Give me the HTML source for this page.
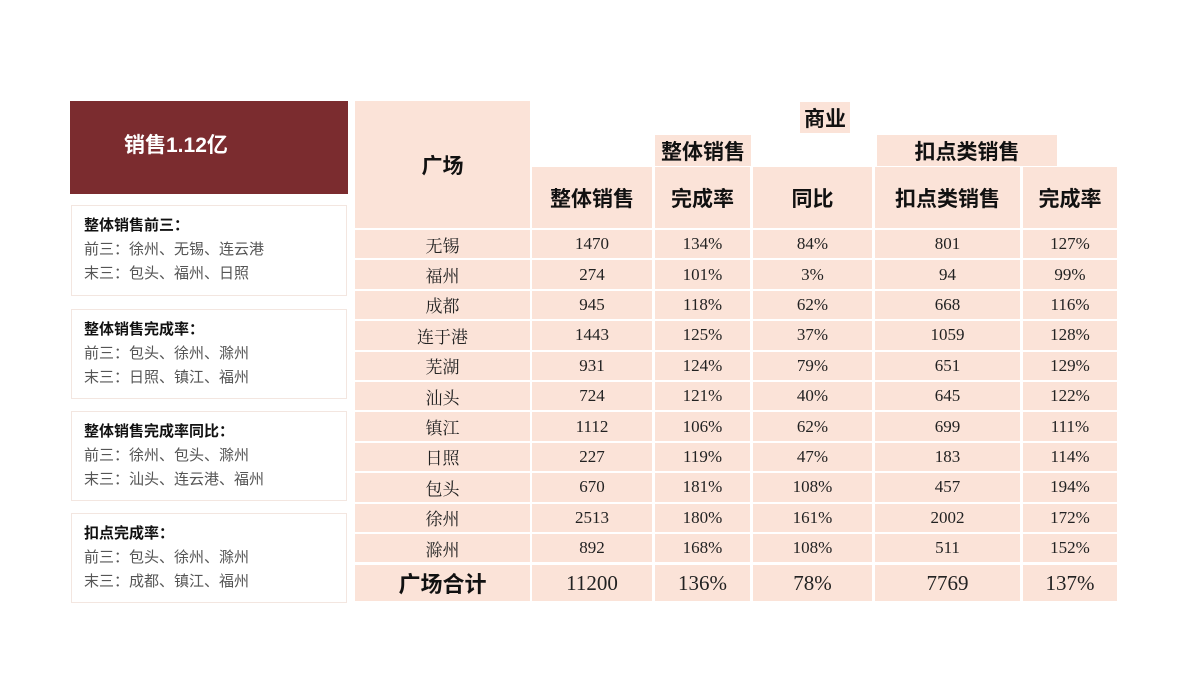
<!DOCTYPE html>
<html><head><meta charset="utf-8"><style>
body{margin:0;width:1200px;height:675px;background:#fff;position:relative;overflow:hidden;font-family:"Liberation Sans","Noto Sans CJK SC",sans-serif}
.a{position:absolute;box-sizing:border-box}
.c{position:absolute;background:#fbe3d8;display:flex;align-items:center;justify-content:center;color:#222;font-size:17px;font-family:"Liberation Serif","Noto Serif CJK SC",serif}
.h{font-family:"Liberation Sans","Noto Sans CJK SC",sans-serif;font-weight:bold;font-size:21px;color:#111}
.box{position:absolute;box-sizing:border-box;left:71px;width:276px;border:1px solid #f3e6e0;background:#fff;padding:8px 0 0 12px;font-size:15px;line-height:24px;color:#555}
.box b{color:#111}
</style></head><body>
<div class="a" style="left:70px;top:101px;width:278px;height:93px;background:#7b2c2f;color:#fff;font-weight:bold;font-size:21px;padding:28px 0 0 54px">销售1.12亿</div>
<div class="box" style="top:205px;height:91px"><b>整体销售前三：</b><br>前三：徐州、无锡、连云港<br>末三：包头、福州、日照</div>
<div class="box" style="top:309px;height:90px"><b>整体销售完成率：</b><br>前三：包头、徐州、滁州<br>末三：日照、镇江、福州</div>
<div class="box" style="top:411px;height:90px"><b>整体销售完成率同比：</b><br>前三：徐州、包头、滁州<br>末三：汕头、连云港、福州</div>
<div class="box" style="top:513px;height:90px"><b>扣点完成率：</b><br>前三：包头、徐州、滁州<br>末三：成都、镇江、福州</div>

<div class="c h" style="left:355px;top:101px;width:175px;height:127px">广场</div>
<div class="c h" style="left:800px;top:102px;width:50px;height:31px">商业</div>
<div class="c h" style="left:655px;top:135px;width:96px;height:31px">整体销售</div>
<div class="c h" style="left:877px;top:135px;width:180px;height:31px">扣点类销售</div>
<div class="c h" style="left:532px;top:167px;width:120px;height:61px">整体销售</div>
<div class="c h" style="left:655px;top:167px;width:95px;height:61px">完成率</div>
<div class="c h" style="left:753px;top:167px;width:119px;height:61px">同比</div>
<div class="c h" style="left:875px;top:167px;width:145px;height:61px">扣点类销售</div>
<div class="c h" style="left:1023px;top:167px;width:94px;height:61px">完成率</div>
<div id="t"></div>
<script>
var cols=[[355,175],[532,120],[655,95],[753,119],[875,145],[1023,94]];
var d=[["无锡","1470","134%","84%","801","127%"],["福州","274","101%","3%","94","99%"],["成都","945","118%","62%","668","116%"],["连于港","1443","125%","37%","1059","128%"],["芜湖","931","124%","79%","651","129%"],["汕头","724","121%","40%","645","122%"],["镇江","1112","106%","62%","699","111%"],["日照","227","119%","47%","183","114%"],["包头","670","181%","108%","457","194%"],["徐州","2513","180%","161%","2002","172%"],["滁州","892","168%","108%","511","152%"]];
var h="";
d.forEach(function(r,i){var top=230+i*30.4;r.forEach(function(v,j){h+='<div class="c" style="left:'+cols[j][0]+'px;top:'+top+'px;width:'+cols[j][1]+'px;height:28.4px">'+v+'</div>';});});
var tot=["广场合计","11200","136%","78%","7769","137%"];
tot.forEach(function(v,j){h+='<div class="c'+(j==0?' h':'')+'" style="left:'+cols[j][0]+'px;top:565px;width:'+cols[j][1]+'px;height:36px;font-size:'+(j==0?22:21)+'px">'+v+'</div>';});
document.getElementById("t").innerHTML=h;
</script>
</body></html>
